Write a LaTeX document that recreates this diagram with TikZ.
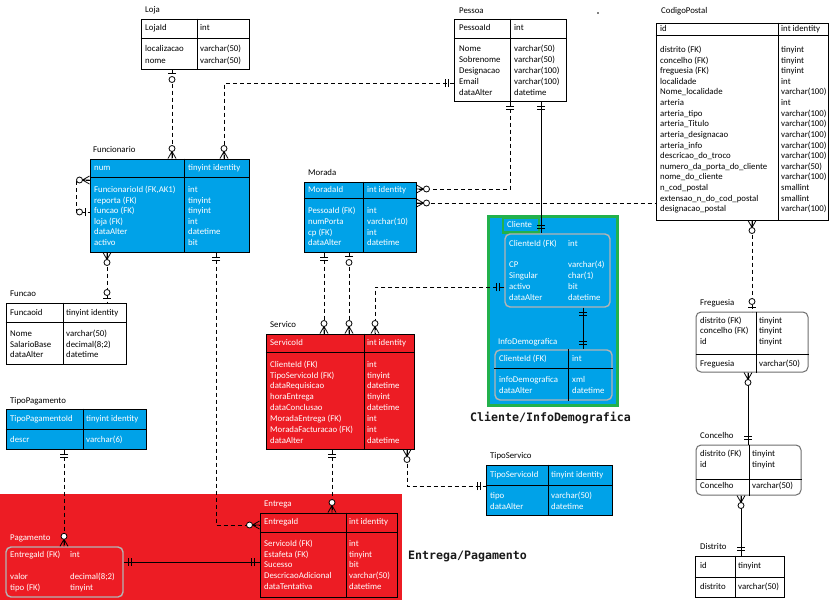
\documentclass[tikz,border=0pt]{standalone}
\usepackage{fontspec}
\setmainfont{Carlito}
\newfontfamily\grouplabel{DejaVu Sans Mono}
\usetikzlibrary{fit}

\definecolor{tabcyan}{HTML}{00A2E8}
\definecolor{tabred}{HTML}{ED1C24}
\definecolor{grpgreen}{HTML}{22B14C}
\definecolor{softgray}{HTML}{B4B4B4}
\definecolor{edgegray}{HTML}{6E6E6E}

\tikzset{
  box/.style={inner sep=0pt, draw=black, line width=1pt, fill=white},
  cyanbox/.style={box, fill=tabcyan},
  redbox/.style={box, fill=tabred},
  roundbox/.style={box, draw=edgegray, rounded corners=5pt},
  softbox/.style={inner sep=0pt, draw=softgray, line width=1.4pt, rounded corners=5pt},
  grid/.style={line width=1pt},
  txt/.style={inner sep=0pt, anchor=north west, align=left, font=\fontsize{8.8}{10.7}\selectfont},
  wtxt/.style={txt, text=white},
  ls/.style={font=\fontsize{8.8}{#1}\selectfont},
  grouptext/.style={inner sep=0pt, anchor=west, text=black!90, font=\grouplabel\bfseries\fontsize{11.6}{14}\selectfont},
  rel/.style={line width=0.8pt, dash pattern=on 4pt off 3pt},
  idrel/.style={line width=0.8pt},
  endmark/.style={line width=0.8pt, solid},
}

% table outline as a named node
\newcommand\tbl[6]{\node[fit={(#3,#4) (#5,#6)}, #2] (#1) {};}
% horizontal / vertical separators inside a table
\newcommand\hdiv[3][]{\draw[grid,#1] (#2.west |- 0,#3) -- (#2.east |- 0,#3);}
\newcommand\vdiv[3][]{\draw[grid,#1] (#2.north -| #3,0) -- (#2.south -| #3,0);}
% text block: left edge x, centre of the first line y
\newcommand\tx[5][]{\node[txt,#1] (#2) at (#3,#4-5.2) {\strut #5};}

% crow's foot ends; second argument is the direction pointing away from the table
\newcommand\zmany[2]{\begin{scope}[shift={#1},rotate=#2,endmark]
  \draw (0,4) -- (7,0) -- (0,-4) (0,0) -- (7,0);
  \draw[fill=white] (10,0) circle (3pt);
\end{scope}}
\newcommand\zone[2]{\begin{scope}[shift={#1},rotate=#2,endmark]
  \draw (4,-4) -- (4,4);
  \draw[fill=white] (10,0) circle (3pt);
\end{scope}}
\newcommand\oneone[2]{\begin{scope}[shift={#1},rotate=#2,endmark]
  \draw (5,-4) -- (5,4) (8,-4) -- (8,4);
\end{scope}}

\begin{document}
\begin{tikzpicture}[x=1pt,y=-1pt]
\fill[white] (0,0) rectangle (836,600);
\useasboundingbox (0,0) rectangle (836,600);

% ---------- group backgrounds ----------
\fill[tabred] (0,494) rectangle (402,600);
\node[fit={(488.5,216.5) (617,405.5)}, inner sep=0pt, draw=grpgreen, line width=3pt, fill=tabcyan] (clientegrp) {};
\node[fit={(503,218) (539,232.5)}, inner sep=0pt, draw=grpgreen, line width=2.5pt] (clientetag) {};

% ---------- Loja ----------
\tx{lojaT}{145}{10}{Loja}
\tbl{loja}{box}{141}{19}{249}{69}
\hdiv{loja}{38} \vdiv{loja}{197}
\tx{lojaK}{145}{28}{LojaId}
\tx{lojaKt}{200}{28}{int}
\tx[ls=11.2]{lojaA}{145}{49}{localizacao\\nome}
\tx[ls=11.2]{lojaAt}{200}{49}{varchar(50)\\varchar(50)}

% ---------- Funcionario ----------
\tx{funcT}{93}{150}{Funcionario}
\tbl{func}{cyanbox}{90}{159}{249}{252}
\hdiv{func}{177.7} \vdiv{func}{184.3}
\tx[wtxt]{funcK}{94}{168}{num}
\tx[wtxt]{funcKt}{188}{168}{tinyint identity}
\tx[wtxt,ls=10.6]{funcA}{94}{190}{FuncionarioId (FK,AK1)\\reporta (FK)\\funcao (FK)\\loja (FK)\\dataAlter\\activo}
\tx[wtxt,ls=10.6]{funcAt}{188}{190}{int\\tinyint\\tinyint\\int\\datetime\\bit}

% ---------- Pessoa ----------
\tx{pessoaT}{459}{11}{Pessoa}
\tbl{pessoa}{box}{454}{19}{566}{101}
\hdiv{pessoa}{38} \vdiv{pessoa}{510}
\tx{pessoaK}{459}{28}{PessoaId}
\tx{pessoaKt}{514}{28}{int}
\tx[ls=10.9]{pessoaA}{459}{49}{Nome\\Sobrenome\\Designacao\\Email\\dataAlter}
\tx[ls=10.9]{pessoaAt}{514}{49}{varchar(50)\\varchar(50)\\varchar(100)\\varchar(100)\\datetime}
\fill (598,13) circle (0.8pt);

% ---------- CodigoPostal ----------
\tx{cpT}{661}{11}{CodigoPostal}
\tbl{cp}{box}{656}{23}{828}{220}
\hdiv{cp}{35} \vdiv{cp}{778}
\tx{cpK}{660}{29}{id}
\tx{cpKt}{781}{29}{int identity}
\tx[ls=10.62]{cpA}{660}{50}{distrito (FK)\\concelho (FK)\\freguesia (FK)\\localidade\\Nome\_localidade\\arteria\\arteria\_tipo\\arteria\_Titulo\\arteria\_designacao\\arteria\_info\\descricao\_do\_troco\\numero\_da\_porta\_do\_cliente\\nome\_do\_cliente\\n\_cod\_postal\\extensao\_n\_do\_cod\_postal\\designacao\_postal}
\tx[ls=10.62]{cpAt}{781}{50}{tinyint\\tinyint\\tinyint\\int\\varchar(100)\\int\\varchar(100)\\varchar(100)\\varchar(100)\\varchar(100)\\varchar(100)\\varchar(50)\\varchar(100)\\smallint\\smallint\\varchar(100)}

% ---------- Morada ----------
\tx{moradaT}{308}{173}{Morada}
\tbl{morada}{cyanbox}{304}{182}{416}{252}
\hdiv{morada}{198} \vdiv{morada}{363}
\tx[wtxt]{moradaK}{308}{190}{MoradaId}
\tx[wtxt]{moradaKt}{367}{190}{int identity}
\tx[wtxt,ls=10.8]{moradaA}{308}{211}{PessoaId (FK)\\numPorta\\cp (FK)\\dataAlter}
\tx[wtxt,ls=10.8]{moradaAt}{367}{211}{int\\varchar(10)\\int\\datetime}

% ---------- Cliente / InfoDemografica ----------
\tx[wtxt]{clienteT}{507}{225}{Cliente}
\tbl{cliente}{softbox}{505}{234}{610}{307}
\tx[wtxt]{clienteK}{509}{244}{ClienteId (FK)}
\tx[wtxt]{clienteKt}{568}{244}{int}
\tx[wtxt,ls=11]{clienteA}{509}{265}{CP\\Singular\\activo\\dataAlter}
\tx[wtxt,ls=11]{clienteAt}{568}{265}{varchar(4)\\char(1)\\bit\\datetime}

\tx[wtxt]{infoT}{498}{342}{InfoDemografica}
\tbl{info}{softbox}{495}{350}{612}{400}
\hdiv{info}{368} \vdiv{info}{568}
\tx[wtxt]{infoK}{499}{359}{ClienteId (FK)}
\tx[wtxt]{infoKt}{572}{359}{int}
\tx[wtxt]{infoA}{499}{380}{infoDemografica\\dataAlter}
\tx[wtxt]{infoAt}{572}{380}{xml\\datetime}
\node[grouptext] (clientelbl) at (470,418) {Cliente/InfoDemografica};

% ---------- Servico ----------
\tx{servicoT}{270}{325}{Servico}
\tbl{servico}{redbox}{266}{334}{414}{449}
\hdiv{servico}{352} \vdiv{servico}{364}
\tx[wtxt]{servicoK}{270}{343}{ServicoId}
\tx[wtxt]{servicoKt}{367}{343}{int identity}
\tx[wtxt,ls=10.9]{servicoA}{270}{364.5}{ClienteId (FK)\\TipoServicoId (FK)\\dataRequisicao\\horaEntrega\\dataConclusao\\MoradaEntrega (FK)\\MoradaFacturacao (FK)\\dataAlter}
\tx[wtxt,ls=10.9]{servicoAt}{367}{364.5}{int\\tinyint\\datetime\\tinyint\\datetime\\int\\int\\datetime}

% ---------- TipoServico ----------
\tx{tsT}{490}{456}{TipoServico}
\tbl{tiposerv}{cyanbox}{486}{465}{612}{515}
\hdiv{tiposerv}{485} \vdiv{tiposerv}{548}
\tx[wtxt]{tsK}{490}{475}{TipoServicoId}
\tx[wtxt]{tsKt}{551}{475}{tinyint identity}
\tx[wtxt]{tsA}{490}{496}{tipo\\dataAlter}
\tx[wtxt]{tsAt}{551}{496}{varchar(50)\\datetime}

% ---------- Freguesia / Concelho / Distrito ----------
\tx{fregT}{700}{303}{Freguesia}
\tbl{freg}{roundbox}{696}{312}{808}{372}
\hdiv{freg}{354} \vdiv{freg}{756}
\tx[ls=10.6]{fregA}{700}{320.7}{distrito (FK)\\concelho (FK)\\id}
\tx[ls=10.6]{fregAt}{759}{320.7}{tinyint\\tinyint\\tinyint}
\tx{fregB}{700}{364}{Freguesia}
\tx{fregBt}{759}{364}{varchar(50)}

\tx{concT}{700}{436}{Concelho}
\tbl{conc}{roundbox}{696}{445}{801}{495}
\hdiv{conc}{479} \vdiv{conc}{749}
\tx[ls=11]{concA}{700}{454}{distrito (FK)\\id}
\tx[ls=11]{concAt}{752}{454}{tinyint\\tinyint}
\tx{concB}{700}{486}{Concelho}
\tx{concBt}{752}{486}{varchar(50)}

\tx{distT}{700}{547}{Distrito}
\tbl{distrito}{box}{695}{556}{784}{597}
\hdiv{distrito}{577} \vdiv{distrito}{735}
\tx{distA}{700}{566}{id}
\tx{distAt}{738}{566}{tinyint}
\tx{distB}{700}{587}{distrito}
\tx{distBt}{738}{587}{varchar(50)}

% ---------- Funcao ----------
\tx{funcaoT}{10}{294}{Funcao}
\tbl{funcao}{box}{6}{303}{126}{364}
\hdiv{funcao}{322} \vdiv{funcao}{63}
\tx{funcaoK}{10}{313}{Funcaoid}
\tx{funcaoKt}{66}{313}{tinyint identity}
\tx[ls=10.6]{funcaoA}{10}{334}{Nome\\SalarioBase\\dataAlter}
\tx[ls=10.6]{funcaoAt}{66}{334}{varchar(50)\\decimal(8;2)\\datetime}

% ---------- TipoPagamento ----------
\tx{tpT}{10}{401}{TipoPagamento}
\tbl{tipopag}{cyanbox}{6}{409}{146}{449}
\hdiv{tipopag}{429} \vdiv{tipopag}{83}
\tx[wtxt]{tpK}{10}{419}{TipoPagamentoId}
\tx[wtxt]{tpKt}{86}{419}{tinyint identity}
\tx[wtxt]{tpA}{10}{440}{descr}
\tx[wtxt]{tpAt}{86}{440}{varchar(6)}

% ---------- Entrega / Pagamento ----------
\tx[wtxt]{entregaT}{264}{504}{Entrega}
\tbl{entrega}{redbox}{260}{513}{397}{597}
\hdiv{entrega}{532} \vdiv{entrega}{346}
\tx[wtxt]{entregaK}{264}{522}{EntregaId}
\tx[wtxt]{entregaKt}{349}{522}{int identity}
\tx[wtxt,ls=10.67]{entregaA}{264}{544}{ServicoId (FK)\\Estafeta (FK)\\Sucesso\\DescricaoAdicional\\dataTentativa}
\tx[wtxt,ls=10.67]{entregaAt}{349}{544}{int\\tinyint\\bit\\varchar(50)\\datetime}

\tx[wtxt]{pagT}{10}{538}{Pagamento}
\tbl{pagamento}{softbox}{6}{547}{123}{597}
\tx[wtxt]{pagK}{10}{555}{EntregaId (FK)}
\tx[wtxt]{pagKt}{70}{555}{int}
\tx[wtxt]{pagA}{10}{577}{valor\\tipo (FK)}
\tx[wtxt]{pagAt}{70}{577}{decimal(8;2)\\tinyint}
\node[grouptext] (entregalbl) at (408,556) {Entrega/Pagamento};

% ---------- relationships ----------
\draw[rel] (loja.south -| 172,0) -- (func.north -| 172,0);
\draw[rel] (pessoa.west |- 0,83) -| (func.north -| 224,0);
\draw[rel] (func.west |- 0,180) -- ++(-13,0) |- (func.west |- 0,212);
\draw[rel] (func.south -| 107,0) -- (funcao.north -| 107,0);
\draw[rel] (func.south -| 216,0) |- (entrega.west |- 0,525);
\draw[rel] (pessoa.south -| 510,0) |- (morada.east |- 0,189);
\draw[idrel] (pessoa.south -| 541,0) -- (cliente.north -| 541,0);
\draw[rel] (morada.east |- 0,203) -- (cp.west |- 0,203);
\draw[rel] (morada.south -| 324,0) -- (servico.north -| 324,0);
\draw[rel] (morada.south -| 349,0) -- (servico.north -| 349,0);
\draw[rel] (cliente.west |- 0,287) -| (servico.north -| 375,0);
\draw[idrel] (cliente.south -| 583,0) -- (info.north -| 583,0);
\draw[rel] (cp.south -| 752,0) -- (freg.north -| 752,0);
\draw[idrel] (freg.south -| 748,0) -- (conc.north -| 748,0);
\draw[idrel] (conc.south -| 741,0) -- (distrito.north -| 741,0);
\draw[rel] (servico.south -| 332,0) -- (entrega.north -| 332,0);
\draw[rel] (servico.south -| 407,0) |- (tiposerv.west |- 0,486);
\draw[rel] (tipopag.south -| 64,0) -- (pagamento.north -| 64,0);
\draw[idrel] (pagamento.east |- 0,562) -- (entrega.west |- 0,562);

% ---------- relationship ends ----------
\zone{(loja.south -| 172,0)}{270}
\zmany{(func.north -| 172,0)}{90}
\oneone{(pessoa.west |- 0,83)}{180}
\zmany{(func.north -| 224,0)}{90}
\zmany{(func.west |- 0,180)}{180}
\zone{(func.west |- 0,212)}{180}
\zmany{(func.south -| 107,0)}{270}
\zone{(funcao.north -| 107,0)}{90}
\oneone{(func.south -| 216,0)}{270}
\zmany{(entrega.west |- 0,525)}{180}
\oneone{(pessoa.south -| 510,0)}{270}
\zmany{(morada.east |- 0,189)}{0}
\oneone{(pessoa.south -| 541,0)}{270}
\oneone{(cliente.north -| 541,0)}{90}
\zmany{(morada.east |- 0,203)}{0}
\oneone{(morada.south -| 324,0)}{270}
\zmany{(servico.north -| 324,0)}{90}
\zone{(morada.south -| 349,0)}{270}
\zmany{(servico.north -| 349,0)}{90}
\oneone{(cliente.west |- 0,287)}{180}
\zmany{(servico.north -| 375,0)}{90}
\oneone{(cliente.south -| 583,0)}{270}
\oneone{(info.north -| 583,0)}{90}
\zmany{(cp.south -| 752,0)}{270}
\zone{(freg.north -| 752,0)}{90}
\zmany{(freg.south -| 748,0)}{270}
\oneone{(conc.north -| 748,0)}{90}
\zmany{(conc.south -| 741,0)}{270}
\oneone{(distrito.north -| 741,0)}{90}
\oneone{(servico.south -| 332,0)}{270}
\zmany{(entrega.north -| 332,0)}{90}
\zmany{(servico.south -| 407,0)}{270}
\oneone{(tiposerv.west |- 0,486)}{180}
\oneone{(tipopag.south -| 64,0)}{270}
\zmany{(pagamento.north -| 64,0)}{90}
\oneone{(pagamento.east |- 0,562)}{0}
\oneone{(entrega.west |- 0,562)}{180}
\end{tikzpicture}
\end{document}
